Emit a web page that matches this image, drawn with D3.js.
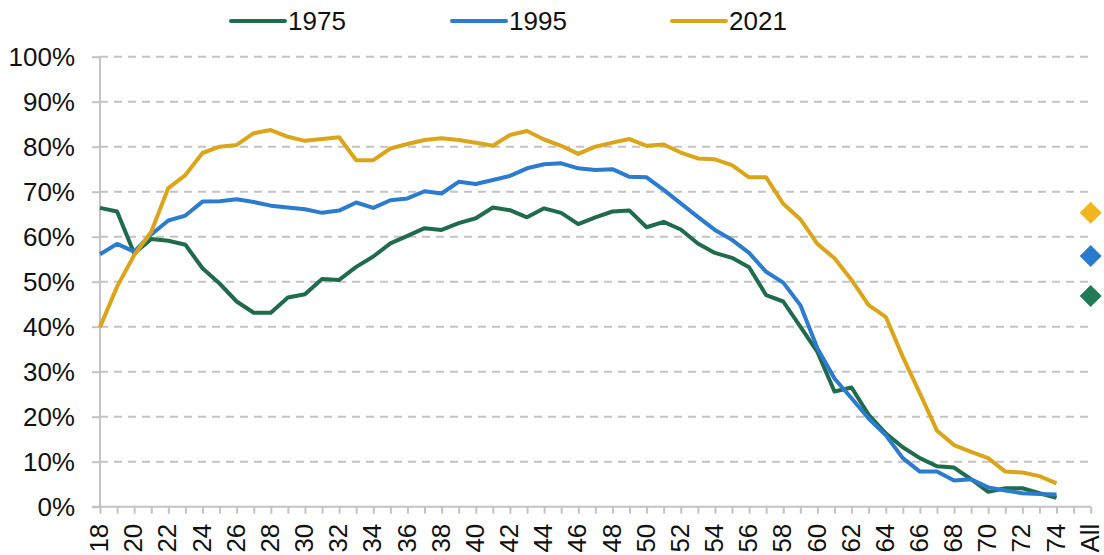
<!DOCTYPE html>
<html>
<head>
<meta charset="utf-8">
<script src="https://cdn.jsdelivr.net/npm/d3@7"></script>
<style>
  html, body { margin: 0; padding: 0; background: #fff; }
  svg { display: block; font-family: "Liberation Sans", Arial, sans-serif; }
</style>
</head>
<body>
<svg id="chart" width="1104" height="555"></svg>
<script>
// Share of each age in employment, by year
const ages = d3.range(18, 75).map(String);
const categories = [...ages, " ", "All"];

const years = ["1975", "1995", "2021"];

const values1975 = [66.4, 65.6, 56.3, 59.5, 59.1, 58.2, 53.0, 49.6, 45.6, 43.1, 43.1, 46.5, 47.2, 50.6, 50.4,
  53.3, 55.6, 58.5, 60.2, 61.9, 61.5, 63.0, 64.1, 66.5, 65.9, 64.3, 66.3, 65.3, 62.8,
  64.3, 65.6, 65.8, 62.1, 63.3, 61.6, 58.5, 56.4, 55.3, 53.2, 47.0, 45.6,
  40.0, 34.4, 25.6, 26.5, 20.4, 16.3, 13.2, 10.8, 9.0, 8.7, 6.1, 3.3, 4.1, 4.1, 3.0, 2.0];

const values1995 = [56.1, 58.4, 56.7, 60.5, 63.6, 64.7, 67.8, 67.9, 68.3, 67.7, 66.9, 66.5, 66.1, 65.3, 65.8,
  67.6, 66.4, 68.1, 68.5, 70.1, 69.6, 72.2, 71.7, 72.6, 73.5, 75.2, 76.1, 76.3, 75.2,
  74.8, 75.0, 73.3, 73.2, 70.4, 67.4, 64.4, 61.5, 59.3, 56.4, 52.2, 49.8,
  44.8, 35.2, 28.5, 24.1, 19.6, 15.9, 10.8, 7.8, 7.8, 5.8, 6.1, 4.3, 3.6, 3.0, 2.8, 2.7];

const values2021 = [39.9, 48.9, 55.9, 61.1, 70.8, 73.7, 78.6, 80.0, 80.4, 83.0, 83.7, 82.2, 81.3, 81.7, 82.1,
  77.0, 77.0, 79.6, 80.6, 81.5, 81.9, 81.5, 80.9, 80.2, 82.6, 83.5, 81.6, 80.2, 78.4,
  80.0, 80.9, 81.7, 80.2, 80.5, 78.7, 77.4, 77.2, 75.9, 73.2, 73.2, 67.3,
  63.9, 58.4, 55.2, 50.4, 44.8, 42.2, 33.3, 25.2, 16.9, 13.7, 12.2, 10.8, 7.8, 7.6, 6.8, 5.2];

// Whole-population figure per year, shown at "All"
const allValues = [46.8, 55.7, 65.3];

const yTicks = [0, 10, 20, 30, 40, 50, 60, 70, 80, 90, 100];

const lineColors = ["#1f6b4c", "#2b7bcf", "#dba519"];
const markerColors = ["#237a57", "#2a7ad0", "#f2b41f"];

const fontSize = 26;

const svg = d3.select("#chart");
const plotLeft = 100, plotRight = 1090.7, plotTop = 56.7, plotBottom = 506.7;

const x = d3.scalePoint().domain(d3.range(categories.length)).range([plotLeft, plotRight]);
const y = d3.scaleLinear().domain([0, 100]).range([plotBottom, plotTop]);

// Horizontal dashed gridlines
svg.append("g")
  .selectAll("line")
  .data(yTicks.filter(d => d > 0))
  .join("line")
  .attr("x1", plotLeft).attr("x2", plotRight)
  .attr("y1", d => y(d)).attr("y2", d => y(d))
  .attr("stroke", "#c3c3c3")
  .attr("stroke-width", 2)
  .attr("stroke-dasharray", "8,6");

// Y axis
const yAxis = svg.append("g")
  .attr("transform", `translate(${plotLeft},0)`)
  .call(d3.axisLeft(y).tickValues(yTicks).tickFormat(d => d + "%").tickSize(8).tickPadding(17));
yAxis.select(".domain").attr("stroke", "#c3c3c3").attr("stroke-width", 2).attr("d", `M0,${plotTop}V${plotBottom}`);
yAxis.selectAll(".tick line").attr("stroke", "#c3c3c3").attr("stroke-width", 2);
yAxis.selectAll(".tick text")
  .attr("font-size", fontSize)
  .attr("fill", "#111")
  .attr("font-family", "Liberation Sans, Arial, sans-serif");

// X axis
const xAxis = svg.append("g")
  .attr("transform", `translate(0,${plotBottom})`)
  .call(d3.axisBottom(x).tickSize(7).tickFormat(() => ""));
xAxis.select(".domain").attr("stroke", "#c3c3c3").attr("stroke-width", 2).attr("d", `M${plotLeft - 8},0H${plotRight}`);
xAxis.selectAll(".tick line").attr("stroke", "#c3c3c3").attr("stroke-width", 2);

// Category labels, every other one, rotated
const labelIdx = d3.range(categories.length).filter(i => i % 2 === 0);
svg.append("g")
  .selectAll("text")
  .data(labelIdx)
  .join("text")
  .attr("transform", i => `translate(${x(i) - 1},${plotBottom + 17}) rotate(-90)`)
  .attr("text-anchor", "end")
  .attr("dy", "0.35em")
  .attr("font-size", fontSize)
  .attr("fill", "#111")
  .text(i => categories[i]);

// Series lines
const seriesData = [values1975, values1995, values2021];
const line = d3.line().x((d, i) => x(i)).y(d => y(d));

svg.append("g")
  .selectAll("path")
  .data(seriesData)
  .join("path")
  .attr("d", d => line(d))
  .attr("fill", "none")
  .attr("stroke", (d, i) => lineColors[i])
  .attr("stroke-width", 4)
  .attr("stroke-linejoin", "round");

// "All" markers (diamonds)
const allIdx = categories.indexOf("All");
const r = 11;
svg.append("g")
  .selectAll("path")
  .data(allValues)
  .join("path")
  .attr("transform", d => `translate(${x(allIdx)},${y(d)})`)
  .attr("d", `M0,${-r}L${r},0L0,${r}L${-r},0Z`)
  .attr("fill", (d, i) => markerColors[i]);

// Legend
const legendX = [231, 452, 672];
const legend = svg.append("g")
  .selectAll("g")
  .data(years)
  .join("g")
  .attr("transform", (d, i) => `translate(${legendX[i]},21)`);
legend.append("line")
  .attr("x1", 0).attr("x2", 54)
  .attr("stroke", (d, i) => lineColors[i])
  .attr("stroke-width", 4)
  .attr("stroke-linecap", "round");
legend.append("text")
  .attr("x", 57)
  .attr("dy", "0.35em")
  .attr("font-size", fontSize)
  .attr("fill", "#111")
  .text(d => d);
</script>
</body>
</html>
